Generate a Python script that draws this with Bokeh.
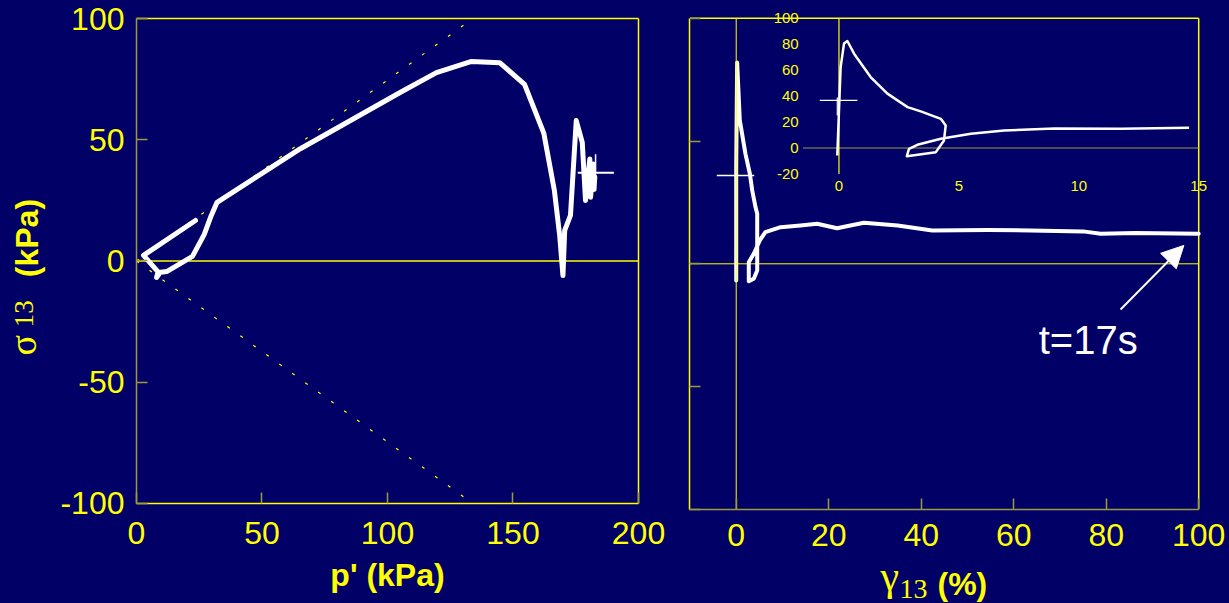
import math
from bokeh.plotting import figure
from bokeh.layouts import row
from bokeh.models import Range1d, Label, Arrow, NormalHead, FixedTicker
from bokeh.embed import file_html
from bokeh.resources import INLINE
from bokeh.core.properties import value

# ---------------- data ----------------
# stress path: p' (kPa) vs sigma13 (kPa)
path_p = [23.5, 2.8, 8.6, 8.0, 9.5, 12.2, 22.3, 27.0, 29.5, 32.1, 65.3, 105.2, 119.5, 133.5,
          144.7, 154.6, 162.3, 166.5, 168.6, 169.9, 170.6, 172.9, 175.2, 177.6, 178.9,
          180.6, 180.9, 182.0, 182.2, 182.6]
path_s = [16.7, 2.3, -4.5, -6.8, -4.6, -4.3, 1.9, 11.0, 18.0, 24.2, 46.3, 69.6, 77.7, 82.3,
          81.8, 72.8, 52.6, 29.0, 10.5, -6.0, 12.6, 18.8, 57.9, 48.9, 24.9,
          42.1, 26.3, 40.0, 29.5, 34.6]
# critical state lines
cs_p = [0, 134]
cs_upper = [0, 100]
cs_lower = [0, -100]
# initial state marker (cross) in the stress plane
cross_p_h = [175.8, 190.2]; cross_s_h = [36.4, 36.4]
cross_p_v = [182.9, 182.9]; cross_s_v = [29.0, 44.0]

# stress-strain: gamma13 (%) vs sigma13 (kPa), full range
strain_g = [0.0, 0.0, 0.2, 0.78, 2.0, 2.95, 3.46, 4.17, 4.54, 4.54, 3.8, 2.72, 2.72, 3.8, 5.1,
            6.3, 9.6, 13.9, 17.5, 21.8, 27.6, 34.9, 42.4, 54.5, 63.6, 75.0, 78.8, 86.3, 100.0]
strain_s = [-6.8, 40.0, 82.0, 58.4, 44.8, 36.7, 29.9, 23.1, 20.4, -2.7, -6.1, -7.1, 0.65, 4.1, 9.5,
            12.9, 14.9, 15.6, 16.3, 14.5, 16.7, 15.6, 13.6, 13.8, 13.6, 13.2, 12.2, 12.5, 12.2]
main_cross_g = [-4.2, 3.9]; main_cross_s = [36.0, 36.0]

# inset: first 15 %
inset_g = [-0.07, 0.07, 0.21, 0.35, 0.63, 1.32, 2.02, 2.86, 3.41, 4.25, 4.45, 4.38, 4.04, 2.83,
           2.92, 3.27, 4.25, 5.5, 6.89, 8.98, 11.76, 14.6]
inset_s = [-5.8, 62.4, 80.5, 82.5, 72.7, 54.7, 41.9, 31.5, 28.2, 22.5, 17.4, 5.8, -3.2, -6.3,
           -0.6, 2.5, 7.1, 11.0, 13.5, 15.1, 14.8, 15.6]
inset_cross_gh = [-0.8, 0.77]; inset_cross_sh = [36.7, 36.7]
inset_cross_gv = [-0.07, -0.07]; inset_cross_sv = [25.0, 39.0]

left_xlim = (0, 200); left_ylim = (-100, 100)
right_xlim = (-10, 100); right_ylim = (-100, 100)
inset_xlim = (-1.5, 15); inset_ylim = (-20, 100)
left_xticks = [0, 50, 100, 150, 200]
left_yticks = [-100, -50, 0, 50, 100]
right_xticks = [0, 20, 40, 60, 80, 100]
right_yticks = [-100, -50, 0, 50, 100]
inset_xticks = [0, 5, 10, 15]
inset_yticks = [-20, 0, 20, 40, 60, 80, 100]

annot_text = "t=17s"
arrow_start = (83.1, -18.6)
arrow_end = (96.8, 7.5)
annot_pos = (65.4, -30.9)

# ---------------- style ----------------
BG = "#000066"
YEL = "#ffff00"
OLIVE = "#9c9a3c"
SANS = "Liberation Sans"
SERIF = "Liberation Serif"


def make_fig(w, h, xr, yr):
    p = figure(width=w, height=h, x_range=Range1d(*xr), y_range=Range1d(*yr),
               min_border=0, output_backend="svg", toolbar_location=None,
               background_fill_color=BG, border_fill_color=BG)
    p.outline_line_color = None
    p.grid.visible = False
    return p


def style_axes(p, xticks, yticks, xlim, ylim, xcol, ycol, ylabels=True):
    p.xaxis.ticker = FixedTicker(ticks=xticks)
    p.yaxis.ticker = FixedTicker(ticks=yticks)
    p.xaxis.fixed_location = ylim[0]
    p.yaxis.fixed_location = xlim[0]
    p.xaxis.bounds = xlim
    p.yaxis.bounds = ylim
    for ax, col in ((p.xaxis, xcol), (p.yaxis, ycol)):
        ax.axis_line_color = col
        ax.axis_line_width = 1.5
        ax.major_tick_line_color = OLIVE
        ax.major_tick_line_width = 1.5
        ax.major_tick_in = 11
        ax.major_tick_out = 0
        ax.minor_tick_line_color = None
        ax.major_label_text_color = YEL
        ax.major_label_text_font = SANS
        ax.major_label_text_font_size = "32px"
        ax.major_label_standoff = 12
    if not ylabels:
        p.yaxis.major_label_text_color = None


# ---------------- left: stress path ----------------
p1 = make_fig(676, 603, (-54.18, 215.14), (-141.24, 107.42))
style_axes(p1, left_xticks, left_yticks, left_xlim, left_ylim, YEL, OLIVE)
p1.xaxis.major_label_standoff = 19
p1.yaxis.major_label_overrides = {-100: "-100", -50: "-50"}

# frame top / right edges and zero line
p1.segment(x0=[left_xlim[0], left_xlim[1]], y0=[left_ylim[1], left_ylim[0]],
           x1=[left_xlim[1], left_xlim[1]], y1=[left_ylim[1], left_ylim[1]],
           line_color=YEL, line_width=1.5)
p1.segment(x0=[left_xlim[0]], y0=[0], x1=[left_xlim[1]], y1=[0], line_color=YEL, line_width=1.5)
p1.line(cs_p, cs_upper, line_color=YEL, line_width=1.2, line_dash="3 13")
p1.line(cs_p, cs_lower, line_color=YEL, line_width=1.2, line_dash="3 13")
p1.line(path_p, path_s, line_color="white", line_width=5, line_join="round", line_cap="round")
p1.line(cross_p_h, cross_s_h, line_color="white", line_width=2)
p1.line(cross_p_v, cross_s_v, line_color="white", line_width=1.5)

# axis titles (mixed fonts)
p1.text(x=[-45.4], y=[-38.97], text=["σ"], angle=math.pi / 2, text_align="left",
        text_baseline="middle", text_font=value(SERIF), text_font_size="38px",
        text_color=YEL)
p1.text(x=[-44.66], y=[-27.3], text=["13"], angle=math.pi / 2, text_align="left",
        text_baseline="middle", text_font=value(SERIF), text_font_size="27px",
        text_color=YEL)
p1.text(x=[-43.75], y=[-6.68], text=["(kPa)"], angle=math.pi / 2, text_align="left",
        text_baseline="middle", text_font=value(SANS), text_font_style=value("bold"),
        text_font_size="32px", text_color=YEL)
p1.text(x=[100], y=[-129.65], text=["p' (kPa)"], text_align="center",
        text_baseline="middle", text_font=value(SANS), text_font_style=value("bold"),
        text_font_size="32px", text_color=YEL)

# ---------------- right: stress-strain ----------------
p2 = make_fig(553, 603, (-12.91, 106.66), (-138.37, 107.25))
style_axes(p2, right_xticks, right_yticks, right_xlim, right_ylim, OLIVE, YEL, ylabels=False)
p2.xaxis.major_label_standoff = 15

p2.segment(x0=[right_xlim[0], right_xlim[1]], y0=[right_ylim[1], right_ylim[0]],
           x1=[right_xlim[1], right_xlim[1]], y1=[right_ylim[1], right_ylim[1]],
           line_color=YEL, line_width=1.5)
p2.segment(x0=[right_xlim[0]], y0=[0], x1=[right_xlim[1]], y1=[0], line_color=YEL, line_width=1)
p2.line(strain_g, strain_s, line_color="white", line_width=4, line_join="round", line_cap="round")
p2.segment(x0=[0], y0=[right_ylim[0]], x1=[0], y1=[right_ylim[1]], line_color=YEL, line_width=1)
p2.line(main_cross_g, main_cross_s, line_color="white", line_width=1.5)

# inset drawn in its own coordinate system inside the right frame
sub = p2.subplot(x_source=Range1d(*inset_xlim), y_source=Range1d(*inset_ylim),
                 x_target=Range1d(14.44, 100), y_target=Range1d(36.6, 100))
sub.line(list(inset_xlim), [0, 0], line_color=OLIVE, line_width=1.2)
sub.line([0, 0], list(inset_ylim), line_color=YEL, line_width=1.2)
sub.line(inset_g, inset_s, line_color="white", line_width=2.5, line_join="round")
sub.line(inset_cross_gh, inset_cross_sh, line_color="white", line_width=1.2)
sub.line(inset_cross_gv, inset_cross_sv, line_color="white", line_width=1.2)
sub.text(x=[-1.68] * len(inset_yticks), y=inset_yticks, text=[str(v) for v in inset_yticks],
         text_align="right", text_baseline="middle", text_font=value(SANS),
         text_font_size="15px", text_color=YEL)
sub.text(x=inset_xticks, y=[-29] * len(inset_xticks), text=[str(v) for v in inset_xticks],
         text_align="center", text_baseline="middle", text_font=value(SANS),
         text_font_size="15px", text_color=YEL)

p2.add_layout(Arrow(end=NormalHead(size=22, fill_color="white", line_color="white"),
                    x_start=arrow_start[0], y_start=arrow_start[1],
                    x_end=arrow_end[0], y_end=arrow_end[1],
                    line_color="white", line_width=2))
p2.add_layout(Label(x=annot_pos[0], y=annot_pos[1], text=annot_text, text_align="left",
                    text_baseline="middle", text_font=SANS, text_font_size="40px",
                    text_color="white"))

# x-axis title (mixed fonts)
p2.text(x=[31.2], y=[-127.0], text=["γ"], text_align="left", text_baseline="middle",
        text_font=value(SERIF), text_font_size="42px", text_color=YEL)
p2.text(x=[35.31], y=[-132.5], text=["13"], text_align="left", text_baseline="middle",
        text_font=value(SERIF), text_font_size="28px", text_color=YEL)
p2.text(x=[43.52], y=[-130.6], text=["(%)"], text_align="left", text_baseline="middle",
        text_font=value(SANS), text_font_style=value("bold"), text_font_size="32px",
        text_color=YEL)

layout = row(p1, p2)
layout.styles = {"background-color": BG}

TEMPLATE = """{% block postamble %}<style>html, body { background: #000066; }</style>{% endblock %}"""

open("out.html", "w").write(file_html(layout, INLINE, template=TEMPLATE))
